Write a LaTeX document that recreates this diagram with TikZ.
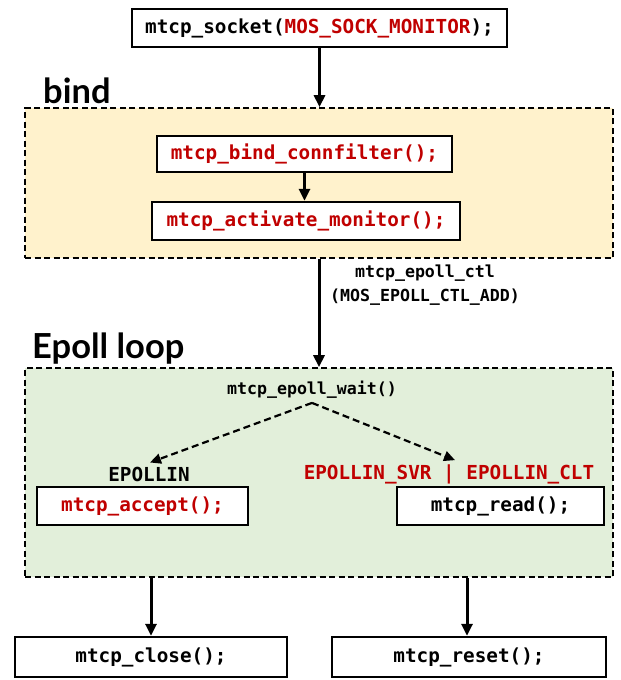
\documentclass[tikz,border=0pt]{standalone}
\usepackage{fontspec}
\setmonofont{DejaVu Sans Mono}
\newfontfamily\headfont{Lato}
\usepackage{tikz}
\usetikzlibrary{
    arrows.meta,
    positioning,
    calc
}
\usepackage{xcolor}
\definecolor{callred}{RGB}{192,0,0}
\definecolor{bindfill}{RGB}{255,242,204}
\definecolor{loopfill}{RGB}{226,239,218}

\begin{document}
\begin{tikzpicture}[
    x=1pt, y=-1pt,
    call/.style={
        rectangle, draw, line width=2.4pt, fill=white,
        minimum height=38pt, inner sep=0pt,
        font=\ttfamily\bfseries\fontsize{19.3}{23}\selectfont
    },
    group/.style={
        rectangle, draw, line width=1.7pt, dash pattern=on 6pt off 3.5pt,
        minimum width=588pt, inner sep=0pt
    },
    heading/.style={anchor=base west, inner sep=0pt,
        font=\headfont\bfseries\fontsize{34.5}{40}\selectfont},
    event/.style={font=\ttfamily\bfseries\fontsize{19.3}{23}\selectfont, inner sep=4pt},
    note/.style={font=\ttfamily\bfseries\fontsize{16.6}{24}\selectfont, align=center, inner sep=4pt},
    flow/.style={line width=3pt, -{Triangle[length=12pt, width=11pt]}},
    branch/.style={line width=2.2pt, dash pattern=on 7pt off 4pt,
        -{Triangle[length=11pt, width=10pt]}}
]
\useasboundingbox (0,0) rectangle (621,680);

% Socket creation
\node[call, minimum width=375pt] (socket) at (319.5, 28)
    {mtcp\_socket(\textcolor{callred}{MOS\_SOCK\_MONITOR});};

% Bind stage
\node[group, fill=bindfill, minimum height=150pt] (bindbox) at (319, 183) {};
\node[heading] (bindtitle) at (43, 103) {bind};
\node[call, minimum width=295pt, minimum height=36pt, text=callred] (connfilter) at (304.5, 154)
    {mtcp\_bind\_connfilter();};
\node[call, minimum width=308pt, text=callred] (activate) at (306, 221)
    {mtcp\_activate\_monitor();};

% Epoll loop stage
\node[group, fill=loopfill, minimum height=209pt] (loopbox) at (319, 472.5) {};
\node[heading] (looptitle) at (32, 358) {Epoll loop};
\node[note] (wait) at (312, 390) {mtcp\_epoll\_wait()};
\node[event] (evin) at (149, 474) {EPOLLIN};
\node[event, text=callred] (evsvr) at (449, 474) {EPOLLIN\_SVR | EPOLLIN\_CLT};
\node[call, minimum width=211pt, text=callred] (accept) at (142.5, 506) {mtcp\_accept();};
\node[call, minimum width=207pt] (read) at (500.5, 506) {mtcp\_read();};

% Teardown calls
\node[call, minimum width=272pt, minimum height=40pt] (close) at (151, 657) {mtcp\_close();};
\node[call, minimum width=274pt, minimum height=40pt] (reset) at (469, 657) {mtcp\_reset();};

% Label on the registration arrow
\node[note] (ctl) at (425, 285) {mtcp\_epoll\_ctl\\(MOS\_EPOLL\_CTL\_ADD)};

% Arrows
\draw[flow] (socket.south) -- (socket.south |- bindbox.north);
\draw[flow] (connfilter.south) -- (connfilter.south |- activate.north);
\draw[flow] (bindbox.south) -- (loopbox.north);
\draw[branch] (wait.south) -- ([xshift=1pt]evin.north);
\draw[branch] (wait.south) -- ([xshift=6pt]evsvr.north);
\draw[flow] (loopbox.south -| close.north) -- (close.north);
\draw[flow] ([xshift=-2pt]loopbox.south -| reset.north) -- ([xshift=-2pt]reset.north);

\end{tikzpicture}
\end{document}
